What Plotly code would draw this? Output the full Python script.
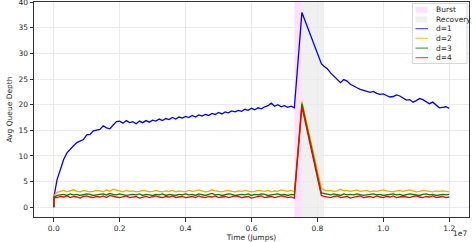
import plotly.graph_objects as go

# ---------------- data ----------------
times = [0, 10000] + list(range(100000, 7300001, 100000)) + [7530000, 8120000] + list(range(8200000, 12000001, 100000))

d1 = [0, 2.2,
      5.4, 7.6, 9.3, 10.6, 11.2, 12.0, 12.6, 12.9, 13.2, 14.1,
      14.2, 14.9, 15.0, 15.2, 15.9, 15.5, 15.3, 16.0, 16.7, 16.8,
      16.4, 16.9, 16.5, 16.7, 16.3, 16.8, 16.5, 16.9, 16.6, 17.0,
      16.8, 17.2, 16.9, 17.3, 17.1, 17.5, 17.2, 17.6, 17.4, 17.7,
      17.5, 17.9, 17.6, 18.0, 17.8, 18.1, 17.9, 18.3, 18.1, 18.5,
      18.2, 18.6, 18.4, 18.8, 18.6, 18.9, 18.7, 19.1, 18.9, 19.3,
      19.0, 19.4, 19.2, 19.6, 19.8, 20.3, 19.7, 20.0, 19.6, 19.8,
      19.5, 19.7, 19.4,
      38.0, 28.0,
      27.5, 27.0, 26.2, 25.6, 25.0, 24.3, 24.9, 24.6, 24.0, 23.6,
      23.3, 23.0, 22.8, 22.6, 22.4, 22.6, 22.2, 22.0, 22.1, 21.8,
      21.5, 21.6, 21.9, 21.7, 21.3, 20.9, 21.0, 20.5, 20.8, 21.2,
      21.0, 20.6, 20.2, 20.5, 20.0, 19.4, 19.5, 19.6, 19.3]

d2 = [0, 2.4,
      2.9, 3.1, 3.3, 3.0, 3.2, 3.4, 3.1, 3.0, 3.3, 3.2,
      3.0, 3.1, 3.3, 3.2, 3.0, 3.4, 3.1, 3.5, 3.3, 3.2,
      3.0, 3.3, 3.1, 3.2, 3.0, 3.1, 3.3, 3.2, 3.0, 3.1,
      3.3, 3.1, 3.0, 3.2, 3.1, 3.3, 3.0, 3.2, 3.1, 3.0,
      3.3, 3.1, 3.2, 3.4, 3.2, 3.0, 3.1, 3.4, 3.2, 3.1,
      3.0, 3.2, 3.3, 3.1, 3.0, 3.2, 3.1, 3.3, 3.2, 3.0,
      3.1, 3.3, 3.2, 3.1, 3.3, 3.0, 3.2, 3.1, 3.4, 3.2,
      3.1, 3.3, 3.0,
      20.6, 3.7,
      3.4, 3.2, 3.3, 3.1, 3.2, 3.5, 3.2, 3.3, 3.1, 3.2,
      3.4, 3.1, 3.2, 3.3, 3.0, 3.2, 3.1, 3.3, 3.4, 3.2,
      3.1, 3.0, 3.2, 3.3, 3.1, 3.2, 3.4, 3.2, 3.0, 3.1,
      3.3, 3.2, 3.1, 3.0, 3.2, 3.1, 3.2, 3.1, 3.0]

d3 = [0, 2.0,
      2.3, 2.4, 2.5, 2.3, 2.6, 2.4, 2.5, 2.3, 2.4, 2.6,
      2.5, 2.3, 2.4, 2.5, 2.6, 2.4, 2.7, 2.5, 2.4, 2.6,
      2.5, 2.3, 2.4, 2.5, 2.4, 2.6, 2.3, 2.5, 2.4, 2.3,
      2.5, 2.4, 2.6, 2.3, 2.5, 2.4, 2.3, 2.5, 2.4, 2.6,
      2.4, 2.5, 2.3, 2.6, 2.4, 2.3, 2.5, 2.7, 2.4, 2.5,
      2.3, 2.4, 2.6, 2.5, 2.3, 2.4, 2.5, 2.4, 2.6, 2.3,
      2.5, 2.4, 2.6, 2.5, 2.3, 2.4, 2.5, 2.6, 2.4, 2.5,
      2.3, 2.5, 2.4,
      20.2, 2.8,
      2.7, 2.5, 2.4, 2.6, 2.5, 2.3, 2.6, 2.4, 2.5, 2.4,
      2.6, 2.5, 2.3, 2.4, 2.5, 2.6, 2.4, 2.5, 2.3, 2.4,
      2.5, 2.6, 2.4, 2.5, 2.3, 2.4, 2.6, 2.5, 2.4, 2.3,
      2.5, 2.6, 2.4, 2.5, 2.3, 2.4, 2.5, 2.4, 2.5]

d4 = [0, 1.9,
      1.9, 2.1, 2.0, 2.2, 1.9, 2.1, 2.0, 1.8, 2.1, 2.2,
      2.0, 1.9, 2.1, 2.0, 2.2, 1.9, 2.3, 2.1, 2.0, 1.9,
      2.1, 2.2, 1.9, 2.0, 2.1, 1.8, 2.0, 2.1, 1.9, 2.0,
      2.2, 2.0, 1.9, 2.1, 2.0, 2.2, 1.9, 2.0, 2.1, 1.9,
      2.0, 2.1, 1.9, 2.2, 2.0, 1.9, 2.1, 2.0, 2.2, 1.9,
      2.0, 2.1, 1.9, 2.0, 2.2, 2.1, 1.9, 2.0, 2.1, 1.8,
      2.0, 2.1, 2.2, 1.9, 2.0, 2.1, 1.9, 2.0, 2.2, 2.1,
      1.9, 2.0, 1.8,
      19.6, 2.3,
      2.1, 2.0, 1.9, 2.1, 2.2, 1.9, 2.0, 2.1, 1.8, 2.0,
      2.1, 2.2, 1.9, 2.0, 2.1, 1.9, 2.2, 2.0, 1.9, 2.1,
      2.0, 2.2, 1.9, 2.0, 2.1, 2.0, 1.9, 2.1, 2.2, 2.0,
      1.9, 2.1, 2.0, 2.2, 1.9, 2.0, 2.1, 1.9, 2.0]

burst = [7300000, 7530000]
recovery = [7530000, 8200000]

series_names = ["d=1", "d=2", "d=3", "d=4"]
series_colors = ["#0000ff", "#ffa500", "#008000", "#ff0000"]
x_tickvals = [0, 2000000, 4000000, 6000000, 8000000, 10000000, 12000000]
x_ticktext = ["0.0", "0.2", "0.4", "0.6", "0.8", "1.0", "1.2"]
y_tickvals = [0, 5, 10, 15, 20, 25, 30, 35, 40]

# ---------------- figure ----------------
W, H = 476, 242
ML, MR, MT, MB = 34, 7, 2, 25
FONT = "DejaVu Sans"
TXT = "#262626"

fig = go.Figure()

fig.add_vrect(x0=burst[0], x1=burst[1], fillcolor="rgba(255,0,255,0.12)", line_width=0, layer="below")
fig.add_vrect(x0=recovery[0], x1=recovery[1], fillcolor="rgba(128,128,128,0.12)", line_width=0, layer="below")

for name, ys, col in zip(series_names, [d1, d2, d3, d4], series_colors):
    fig.add_trace(go.Scatter(x=times, y=ys, mode="lines", name=name,
                             line=dict(color=col, width=1.3), showlegend=False))

# ---- manual legend (matplotlib-like, compact) ----
pw, ph = W - ML - MR, H - MT - MB
def px(x):
    return (x - ML) / pw
def py(y):
    return (H - MB - y) / ph

fig.add_shape(type="rect", xref="paper", yref="paper",
              x0=px(412.5), x1=px(467), y0=py(63.5), y1=py(3.5),
              line=dict(color="#cccccc", width=0.8), fillcolor="rgba(255,255,255,0.85)")
legend_items = [("Burst", "patch", "rgba(255,0,255,0.12)"),
                ("Recovery", "patch", "rgba(128,128,128,0.12)")] + \
               [(n, "line", c) for n, c in zip(series_names, series_colors)]
rows = [9.7, 19.3, 28.7, 38.3, 48.1, 57.7]
for (label, kind, col), ry in zip(legend_items, rows):
    if kind == "patch":
        fig.add_shape(type="rect", xref="paper", yref="paper",
                      x0=px(415.5), x1=px(427.5), y0=py(ry + 3), y1=py(ry - 3),
                      line_width=0, fillcolor=col)
    else:
        fig.add_shape(type="line", xref="paper", yref="paper",
                      x0=px(415.5), x1=px(428), y0=py(ry), y1=py(ry),
                      line=dict(color=col, width=1.1), opacity=0.75)
    fig.add_annotation(xref="paper", yref="paper", x=px(434), y=py(ry),
                       text=label, showarrow=False, xanchor="left", yanchor="middle",
                       font=dict(family=FONT, size=7.5, color=TXT))

# offset text
fig.add_annotation(xref="paper", yref="paper", x=1, y=0, yshift=-10,
                   text="1e7", showarrow=False, xanchor="right", yanchor="top",
                   font=dict(family=FONT, size=7.5, color=TXT))

axis_common = dict(showline=True, mirror=True, linecolor="#333333", linewidth=1,
                   ticks="outside", ticklen=3.5, tickwidth=0.8, tickcolor="#333333",
                   showgrid=True, gridcolor="#ebebeb", gridwidth=0.8, zeroline=False,
                   ticklabeloverflow="allow",
                   tickfont=dict(family=FONT, size=7.5, color=TXT))

fig.update_xaxes(range=[-600000, 12600000], tickvals=x_tickvals, ticktext=x_ticktext,
                 title=dict(text="Time (Jumps)", font=dict(family=FONT, size=7.5, color=TXT), standoff=3),
                 **axis_common)
fig.update_yaxes(range=[-1.9, 40.03], tickvals=y_tickvals,
                 title=dict(text="Avg Queue Depth", font=dict(family=FONT, size=7.5, color=TXT), standoff=4),
                 **axis_common)

fig.update_layout(width=W, height=H, margin=dict(l=ML, r=MR, t=MT, b=MB, autoexpand=False),
                  paper_bgcolor="white", plot_bgcolor="white", showlegend=False)

fig.write_html("out.html", config={"displayModeBar": False},
               post_script="document.body.style.margin='0';document.body.style.overflow='hidden';")
